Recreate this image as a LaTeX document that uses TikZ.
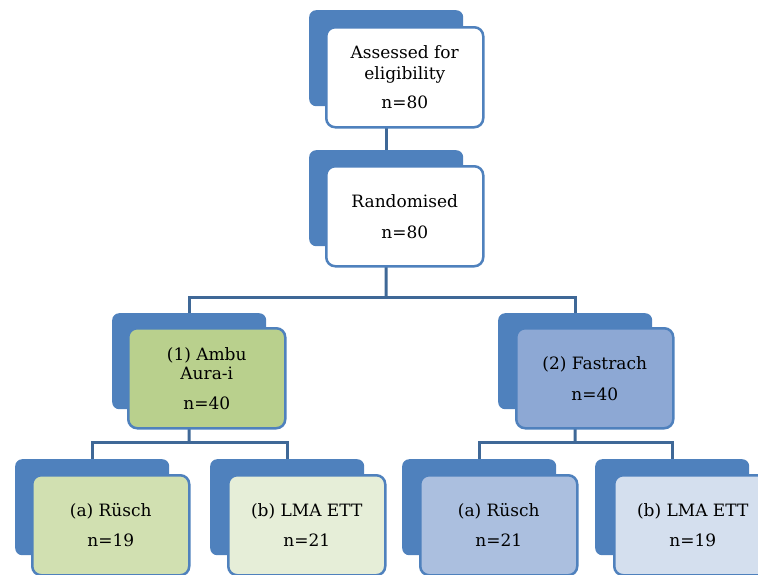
\documentclass[tikz,border=0pt]{standalone}
\usepackage{fontspec}
\setmainfont{DejaVu Serif}
\definecolor{boxblue}{HTML}{4F81BD}
\definecolor{linecol}{HTML}{3F6897}
\definecolor{greenmain}{HTML}{B9D08D}
\definecolor{greena}{HTML}{D1E0B1}
\definecolor{greenb}{HTML}{E6EED8}
\definecolor{bluemain}{HTML}{8DA8D4}
\definecolor{bluea}{HTML}{ABBFDF}
\definecolor{blueb}{HTML}{D4DFEE}
\pgfdeclarelayer{bg}
\pgfsetlayers{bg,main}
\begin{document}
\begin{tikzpicture}[x=1pt,y=-1pt,
  backbox/.style={fill=boxblue,draw=none,rounded corners=7pt,inner sep=0pt,anchor=north west,minimum width=154pt,minimum height=96pt},
  frontbox/.style={draw=boxblue,line width=2.5pt,rounded corners=9pt,inner sep=0pt,anchor=north west,minimum width=157pt,minimum height=100pt,align=center,font=\fontsize{17}{21}\selectfont},
  conn/.style={draw=linecol,line width=3pt}]
\useasboundingbox (0,0) rectangle (758,574);
\clip (0,0) rectangle (758,574);
% top
\node[backbox] (topback) at (309,10) {};
\node[frontbox,fill=white] (topfront) at (325,26) {Assessed for\\eligibility\\[8pt]n=80};
% randomised
\node[backbox] (randback) at (309,150) {};
\node[frontbox,fill=white] (randfront) at (325,165) {Randomised\\[10pt]n=80};
% group 1
\node[backbox] (gaback) at (112,313) {};
\node[frontbox,fill=greenmain] (gafront) at (127,327) {(1) Ambu\\[-2pt]Aura-i\\[9pt]n=40};
% group 2
\node[backbox] (gbback) at (498,313) {};
\node[frontbox,fill=bluemain] (gbfront) at (515,327) {(2) Fastrach\\[10pt]n=40};
% bottom
\node[backbox] (aoneback) at (15,459) {};
\node[frontbox,fill=greena] (aonefront) at (31,474) {(a) Rüsch\\[9pt]n=19};
\node[backbox] (boneback) at (210,459) {};
\node[frontbox,fill=greenb] (bonefront) at (227,474) {(b) LMA ETT\\[9pt]n=21};
\node[backbox] (atwoback) at (402,459) {};
\node[frontbox,fill=bluea] (atwofront) at (419,474) {(a) Rüsch\\[9pt]n=21};
\node[backbox] (btwoback) at (595,459) {};
\node[frontbox,fill=blueb] (btwofront) at (613,474) {(b) LMA ETT\\[9pt]n=19};
% connectors
\coordinate (splitr) at (386,297);
\coordinate (splitg) at (189,442);
\coordinate (splitb) at (575,442);
\begin{pgfonlayer}{bg}
\draw[conn] (topback.south) -- (randback.north);
\draw[conn] (randback.south) -- (splitr);
\draw[conn] (gaback.north) |- (splitr) -| (gbback.north);
\draw[conn] (gaback.south) -- (splitg);
\draw[conn] (aoneback.north) |- (splitg) -| (boneback.north);
\draw[conn] (gbback.south) -- (splitb);
\draw[conn] (atwoback.north) |- (splitb) -| (btwoback.north);
\end{pgfonlayer}
\end{tikzpicture}
\end{document}
